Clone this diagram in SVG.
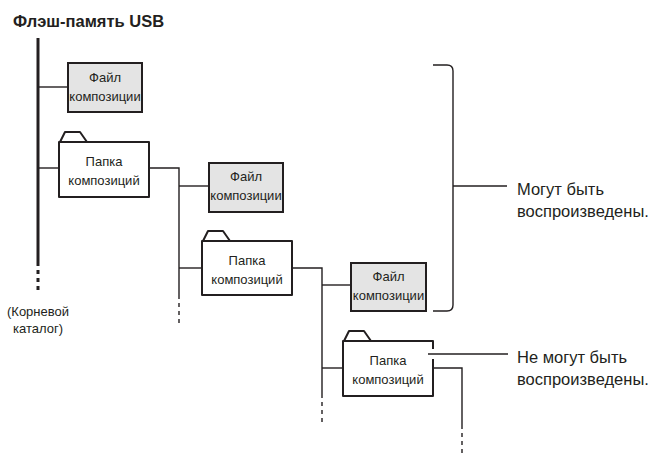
<svg xmlns="http://www.w3.org/2000/svg" width="651" height="453" viewBox="0 0 651 453">
<style>
text{font-family:"Liberation Sans",Arial,sans-serif;fill:#231f20}
.t{font-size:13px;text-anchor:middle}
.lbl{font-size:16.5px}
.title{font-size:16.5px;font-weight:bold}
.file{fill:#e4e4e4;stroke:#231f20;stroke-width:2}
.fold{fill:#fff;stroke:#231f20;stroke-width:2;stroke-linejoin:round}
.c{fill:none;stroke:#231f20;stroke-width:1.4}
.d{fill:none;stroke:#231f20;stroke-width:1.4;stroke-dasharray:4 4}
</style>
<rect width="651" height="453" fill="#fff"/>
<text class="title" x="13" y="27">Флэш-память USB</text>

<g id="connectors">
  <line x1="38" y1="38" x2="38" y2="266" stroke="#231f20" stroke-width="3"/>
  <line x1="38" y1="270" x2="38" y2="292" stroke="#231f20" stroke-width="3" stroke-dasharray="4 4"/>
  <line class="c" x1="38" y1="87" x2="68" y2="87"/>
  <line class="c" x1="38" y1="168" x2="59" y2="168"/>
  <polyline class="c" points="149,168 179,168 179,299"/>
  <line class="d" x1="179" y1="303" x2="179" y2="325"/>
  <line class="c" x1="179" y1="186" x2="209" y2="186"/>
  <line class="c" x1="179" y1="268" x2="202" y2="268"/>
  <polyline class="c" points="292,268 322,268 322,398"/>
  <line class="d" x1="322" y1="402" x2="322" y2="424"/>
  <line class="c" x1="322" y1="285" x2="351" y2="285"/>
  <line class="c" x1="322" y1="368" x2="343" y2="368"/>
  <polyline class="c" points="433,368 462,368 462,429"/>
  <line class="d" x1="462" y1="433" x2="462" y2="455"/>
</g>

<g id="file1">
  <rect class="file" x="68" y="63" width="74" height="49"/>
  <text class="t" x="105" y="82">Файл</text>
  <text class="t" x="105" y="101">композиции</text>
</g>

<g id="folder1">
  <path class="fold" d="M60,142 L65,132 L80,132 L87,142"/>
  <rect class="fold" x="59" y="142" width="90" height="55"/>
  <text class="t" x="104" y="166">Папка</text>
  <text class="t" x="104" y="185">композиций</text>
</g>

<g id="file2">
  <rect class="file" x="209" y="163" width="74" height="49"/>
  <text class="t" x="246" y="181">Файл</text>
  <text class="t" x="246" y="200">композиции</text>
</g>

<g id="folder2">
  <path class="fold" d="M203,241 L208,231 L223,231 L230,241"/>
  <rect class="fold" x="202" y="241" width="90" height="54"/>
  <text class="t" x="247" y="265">Папка</text>
  <text class="t" x="247" y="284">композиций</text>
</g>

<g id="file3">
  <rect class="file" x="351" y="263" width="75" height="48"/>
  <text class="t" x="388.5" y="281">Файл</text>
  <text class="t" x="388.5" y="300">композиции</text>
</g>

<g id="folder3">
  <path class="fold" d="M344,341 L349,331 L364,331 L371,341"/>
  <rect class="fold" x="343" y="341" width="90" height="55"/>
  <text class="t" x="388" y="365">Папка</text>
  <text class="t" x="388" y="384">композиций</text>
</g>

<g id="root-label">
  <text class="t" x="38" y="316">(Корневой</text>
  <text class="t" x="38" y="333">каталог)</text>
</g>

<g id="playable">
  <path class="c" d="M433,65 L447,65 Q453,65 453,71 L453,305 Q453,311 447,311 L433,311"/>
  <line class="c" x1="453" y1="186" x2="507" y2="186"/>
  <text class="lbl" x="517" y="195">Могут быть</text>
  <text class="lbl" x="517" y="217">воспроизведены.</text>
</g>

<g id="not-playable">
  <line x1="433" y1="349" x2="433" y2="359" stroke="#fff" stroke-width="4"/>
  <line class="c" x1="428" y1="354" x2="508" y2="354"/>
  <text class="lbl" x="517" y="363">Не могут быть</text>
  <text class="lbl" x="517" y="385">воспроизведены.</text>
</g>
</svg>
